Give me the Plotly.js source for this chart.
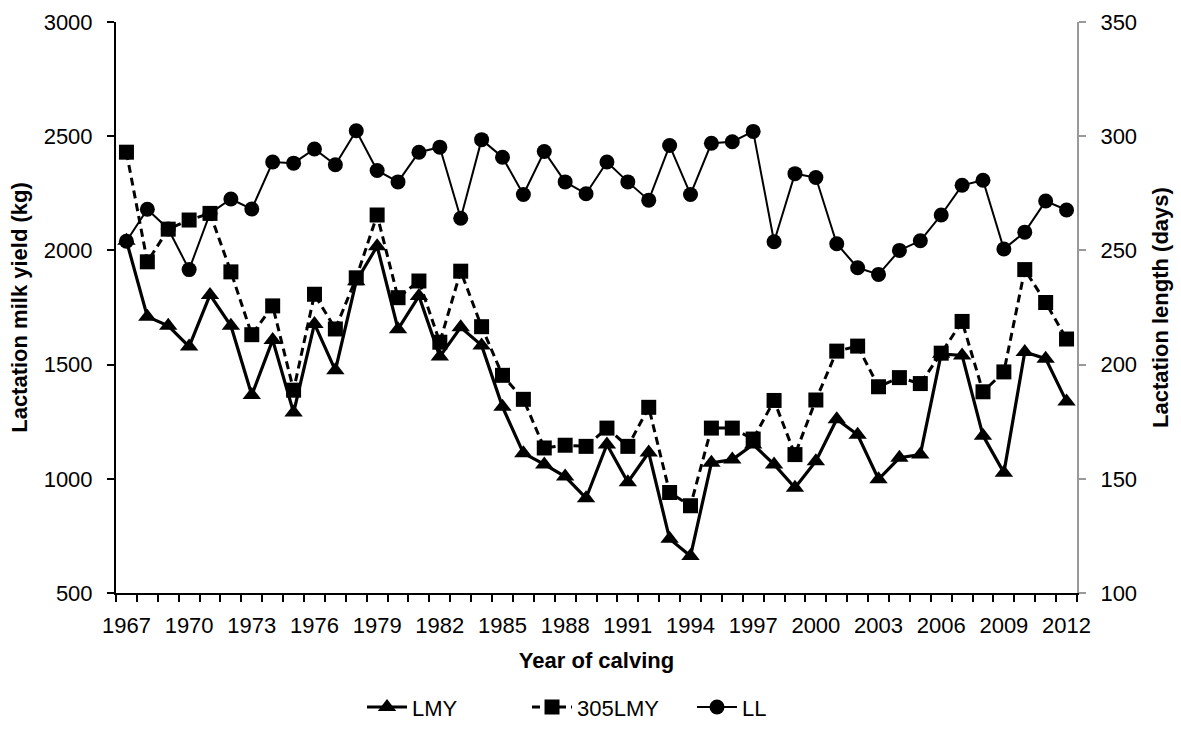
<!DOCTYPE html>
<html>
<head>
<meta charset="utf-8">
<script src="https://cdn.plot.ly/plotly-3.0.1.min.js"></script>
<style>
  html, body { margin: 0; padding: 0; background: #fff; }
  #chart { width: 1181px; height: 740px; }
</style>
</head>
<body>
<div id="chart"></div>
<script>
const years = [];
for (let y = 1967; y <= 2012; y++) years.push(y);

const lmy = [2042, 1710, 1670, 1579, 1805, 1670, 1367, 1608, 1290, 1678,
             1475, 1865, 2018, 1655, 1800, 1535, 1663, 1584, 1315, 1112,
             1063, 1010, 915, 1150, 985, 1115, 737, 662, 1070, 1084,
             1150, 1063, 961, 1077, 1261, 1193, 998, 1092, 1106, 1547,
             1540, 1189, 1027, 1555, 1526, 1338];

const lmy305 = [2430, 1950, 2093, 2133, 2162, 1906, 1631, 1757, 1388, 1808,
                1656, 1880, 2155, 1793, 1866, 1598, 1909, 1666, 1453, 1348,
                1135, 1147, 1142, 1222, 1142, 1313, 940, 882, 1222, 1222,
                1174, 1343, 1106, 1345, 1559, 1581, 1403, 1443, 1417, 1550,
                1689, 1381, 1468, 1916, 1772, 1612];

const ll = [254, 268, 259.4, 241.6, 266.2, 272.5, 268.1, 288.7, 288.2, 294.4,
            287.5, 302.4, 285, 280, 293, 295.2, 264.1, 298.5, 290.8, 274.5,
            293.3, 280, 274.8, 288.7, 280, 272, 295.9, 274.5, 296.9, 297.6,
            302.1, 253.8, 283.6, 281.9, 252.9, 242.4, 239.5, 250, 254.2, 265.5,
            278.5, 280.7, 250.6, 258, 271.6, 267.7];

const tickYears = years.filter((y, i) => i % 3 === 0);
const boundaries = years.map(y => y - 0.5).concat([years[years.length - 1] + 0.5]);

const FONT = 'Liberation Sans, Arial, sans-serif';

const traces = [
  {
    x: years, y: lmy, name: 'LMY', type: 'scatter', mode: 'lines+markers',
    line: { color: '#000', width: 3.2 },
    marker: { symbol: 'triangle-up', size: 16, color: '#000' },
    yaxis: 'y'
  },
  {
    x: years, y: lmy305, name: '305LMY', type: 'scatter', mode: 'lines+markers',
    line: { color: '#000', width: 3, dash: '8px,5px' },
    marker: { symbol: 'square', size: 15, color: '#000' },
    yaxis: 'y'
  },
  {
    x: years, y: ll, name: 'LL', type: 'scatter', mode: 'lines+markers',
    line: { color: '#000', width: 2 },
    marker: { symbol: 'circle', size: 15, color: '#000' },
    yaxis: 'y2'
  }
];

const layout = {
  width: 1181, height: 740,
  paper_bgcolor: '#fff', plot_bgcolor: '#fff',
  margin: { l: 116, r: 104, t: 22, b: 142 },
  font: { family: FONT, size: 22, color: '#000' },
  showlegend: true,
  legend: {
    orientation: 'h', x: 0.256, xanchor: 'left', y: -0.2, yanchor: 'middle',
    font: { family: FONT, size: 22, color: '#000' },
    itemwidth: 40, entrywidth: 110, entrywidthmode: 'pixels',
    bgcolor: 'rgba(0,0,0,0)'
  },
  xaxis: {
    range: [years[0] - 0.5, years[years.length - 1] + 0.5],
    tickmode: 'array', tickvals: tickYears, ticktext: tickYears.map(String),
    ticks: '', showgrid: false, zeroline: false,
    showline: true, linecolor: '#000', linewidth: 2,
    tickfont: { family: FONT, size: 22, color: '#000' },
    ticklabelstandoff: 12,
    minor: { tickmode: 'array', tickvals: boundaries, ticks: 'outside', ticklen: 7, tickwidth: 2, tickcolor: '#000', showgrid: false },
    title: { text: '<b>Year of calving</b>', font: { family: FONT, size: 22, color: '#000' }, standoff: 15 },
    automargin: false
  },
  yaxis: {
    range: [500, 3000], dtick: 500, tick0: 500,
    ticks: 'outside', ticklen: 7, tickwidth: 2, tickcolor: '#000',
    showgrid: false, zeroline: false,
    showline: true, linecolor: '#000', linewidth: 2,
    tickfont: { family: FONT, size: 22, color: '#000' },
    ticklabelstandoff: 10,
    title: { text: '<b>Lactation milk yield (kg)</b>', font: { family: FONT, size: 22, color: '#000' }, standoff: 10 },
    automargin: false
  },
  yaxis2: {
    range: [100, 350], dtick: 50, tick0: 100,
    overlaying: 'y', side: 'right',
    ticks: 'outside', ticklen: 7, tickwidth: 2, tickcolor: '#999',
    showgrid: false, zeroline: false,
    showline: true, linecolor: '#999', linewidth: 2,
    tickfont: { family: FONT, size: 22, color: '#000' },
    ticklabelstandoff: 10,
    title: { text: '<b>Lactation length (days)</b>', font: { family: FONT, size: 22, color: '#000' }, standoff: 16 },
    automargin: false
  }
};

Plotly.newPlot('chart', traces, layout, { displayModeBar: false, staticPlot: true });
</script>
</body>
</html>
